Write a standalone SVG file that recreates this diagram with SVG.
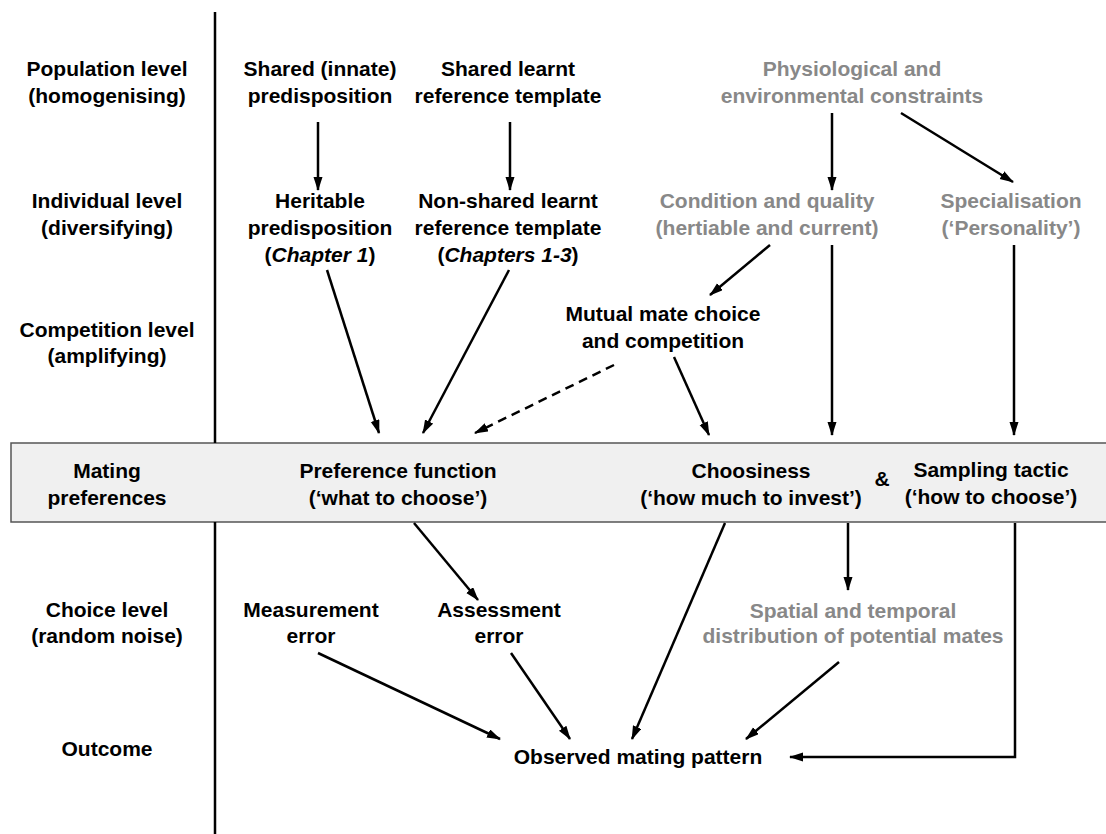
<svg xmlns="http://www.w3.org/2000/svg" width="1106" height="834" viewBox="0 0 1106 834">
<style>
text{font-family:"Liberation Sans",Arial,sans-serif;font-weight:bold;font-size:21px;text-anchor:middle;fill:#000}
.g text,text.g{fill:#888}
.c{stroke:#000;stroke-width:2.5;fill:none}
.d{stroke-dasharray:9 6}
.ax{stroke:#000;stroke-width:2.5}
</style>
<defs>
<marker id="ah" markerUnits="userSpaceOnUse" markerWidth="16" markerHeight="10" refX="13" refY="4.5" orient="auto">
<path d="M0,0 L14,4.5 L0,9 Z" fill="#000"/>
</marker>
</defs>
<rect id="band" x="11" y="443" width="1100" height="79" fill="#f0f0f0" stroke="#555" stroke-width="1.5"/>
<g id="axis">
<line class="ax" x1="215" y1="12" x2="215" y2="443"/>
<line class="ax" x1="215" y1="522" x2="215" y2="834"/>
</g>
<g id="lbl-population"><text x="107" y="76">Population level</text><text x="107" y="103">(homogenising)</text></g>
<g id="lbl-individual"><text x="107" y="208">Individual level</text><text x="107" y="235">(diversifying)</text></g>
<g id="lbl-competition"><text x="107" y="337">Competition level</text><text x="107" y="363">(amplifying)</text></g>
<g id="lbl-mating"><text x="107" y="478">Mating</text><text x="107" y="505">preferences</text></g>
<g id="lbl-choice"><text x="107" y="617">Choice level</text><text x="107" y="643">(random noise)</text></g>
<g id="lbl-outcome"><text x="107" y="756">Outcome</text></g>

<g id="shared-innate"><text x="320" y="76">Shared (innate)</text><text x="320" y="103">predisposition</text></g>
<g id="shared-learnt"><text x="508" y="76">Shared learnt</text><text x="508" y="103">reference template</text></g>
<g id="physio" class="g"><text x="852" y="76">Physiological and</text><text x="852" y="103">environmental constraints</text></g>
<g id="heritable"><text x="320" y="208">Heritable</text><text x="320" y="235">predisposition</text><text x="320" y="262">(<tspan font-style="italic">Chapter 1</tspan>)</text></g>
<g id="nonshared"><text x="508" y="208">Non-shared learnt</text><text x="508" y="235">reference template</text><text x="508" y="262">(<tspan font-style="italic">Chapters 1-3</tspan>)</text></g>
<g id="condition" class="g"><text x="767" y="208">Condition and quality</text><text x="767" y="235">(hertiable and current)</text></g>
<g id="specialisation" class="g"><text x="1011" y="208">Specialisation</text><text x="1011" y="235">(‘Personality’)</text></g>
<g id="mutual"><text x="663" y="321">Mutual mate choice</text><text x="663" y="348">and competition</text></g>
<g id="preference"><text x="398" y="478">Preference function</text><text x="398" y="505">(‘what to choose’)</text></g>
<g id="choosiness"><text x="751" y="478">Choosiness</text><text x="751" y="505">(‘how much to invest’)</text></g>
<g id="amp"><text x="882" y="486">&amp;</text></g>
<g id="sampling"><text x="991" y="477">Sampling tactic</text><text x="991" y="504">(‘how to choose’)</text></g>
<g id="measurement"><text x="311" y="617">Measurement</text><text x="311" y="643">error</text></g>
<g id="assessment"><text x="499" y="617">Assessment</text><text x="499" y="643">error</text></g>
<g id="spatial" class="g"><text x="853" y="618">Spatial and temporal</text><text x="853" y="643">distribution of potential mates</text></g>
<g id="observed"><text x="638" y="764">Observed mating pattern</text></g>

<g id="connectors" marker-end="url(#ah)">
<path class="c" d="M318,122 L318,190" marker-end="url(#ah)"/>
<path class="c" d="M510,122 L510,190" marker-end="url(#ah)"/>
<path class="c" d="M832,113 L832,190" marker-end="url(#ah)"/>
<path class="c" d="M901,113 L1013,182" marker-end="url(#ah)"/>
<path class="c" d="M770,245 L710,295" marker-end="url(#ah)"/>
<path class="c" d="M832,245 L832,435" marker-end="url(#ah)"/>
<path class="c" d="M1014,245 L1014,435" marker-end="url(#ah)"/>
<path class="c" d="M327,270 L379,433" marker-end="url(#ah)"/>
<path class="c" d="M509,270 L423,433" marker-end="url(#ah)"/>
<path class="c d" d="M614,365 L475,433" marker-end="url(#ah)"/>
<path class="c" d="M674,357 L709,435" marker-end="url(#ah)"/>
<path class="c" d="M414,523 L478,600" marker-end="url(#ah)"/>
<path class="c" d="M725,523 L632,739" marker-end="url(#ah)"/>
<path class="c" d="M848,523 L848,590" marker-end="url(#ah)"/>
<path class="c" d="M1015,523 L1015,757 L790,757" marker-end="url(#ah)"/>
<path class="c" d="M318,653 L500,739" marker-end="url(#ah)"/>
<path class="c" d="M511,653 L570,739" marker-end="url(#ah)"/>
<path class="c" d="M839,662 L746,739" marker-end="url(#ah)"/>
</g>
</svg>
